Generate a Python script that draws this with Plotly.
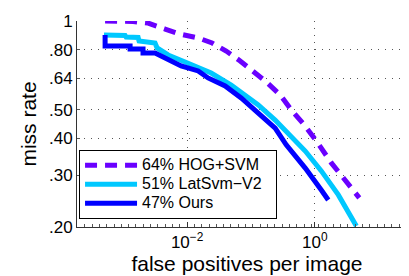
import plotly.graph_objects as go

# Data (false positives per image, miss rate)
hog_fppi = [0.00052, 0.00143, 0.00245, 0.00351, 0.00452, 0.00776, 0.0149, 0.0246, 0.0409,
            0.0677, 0.108, 0.167, 0.287, 0.442, 0.682, 1.09, 1.81, 2.79, 4.96]
hog_miss = [1.0, 0.996, 0.984, 0.962, 0.939, 0.903, 0.876, 0.842, 0.791,
            0.732, 0.677, 0.626, 0.561, 0.495, 0.444, 0.388, 0.330, 0.293, 0.251]

lat_fppi = [0.0005, 0.00107, 0.00111, 0.00171, 0.00177, 0.00315, 0.00339, 0.00504, 0.0093,
            0.0166, 0.0238, 0.049, 0.0702, 0.130, 0.239, 0.427, 0.707, 1.26, 2.33, 4.46]
lat_miss = [0.896, 0.893, 0.882, 0.879, 0.855, 0.842, 0.810, 0.767, 0.726,
            0.687, 0.666, 0.606, 0.570, 0.519, 0.461, 0.407, 0.362, 0.310, 0.257, 0.2015]

ours_fppi = [0.00052, 0.00052, 0.00128, 0.00128, 0.00204, 0.00204, 0.00315, 0.00504, 0.00805,
             0.0149, 0.0213, 0.0394, 0.0702, 0.130, 0.239, 0.356, 0.707, 1.26, 1.62]
ours_miss = [0.896, 0.823, 0.823, 0.804, 0.804, 0.779, 0.779, 0.737, 0.704,
             0.677, 0.641, 0.602, 0.548, 0.487, 0.433, 0.380, 0.317, 0.267, 0.247]

names = ["64% HOG+SVM", "51% LatSvm\u2212V2", "47% Ours"]

y_tickvals = [0.2, 0.3, 0.4, 0.5, 0.64, 0.8, 1.0]
y_ticktext = [".20", ".30", ".40", ".50", ".64", ".80", "1"]
x_tickvals = [0.01, 1.0]
x_ticktext = ["10<sup>\u22122</sup>", "10<sup>0</sup>"]

FONT = "Liberation Sans, Arial, Helvetica, sans-serif"


def legend_label(s):
    return '<span style="font-size:16px">' + s + "\u00a0\u00a0</span>"


fig = go.Figure()
fig.add_trace(go.Scatter(x=hog_fppi, y=hog_miss, mode="lines", name=legend_label(names[0]),
                         line=dict(color="#6a00ff", width=5, dash="12px,8px")))
fig.add_trace(go.Scatter(x=lat_fppi, y=lat_miss, mode="lines", name=legend_label(names[1]),
                         line=dict(color="#00c8ff", width=5)))
fig.add_trace(go.Scatter(x=ours_fppi, y=ours_miss, mode="lines", name=legend_label(names[2]),
                         line=dict(color="#0000ff", width=5)))

fig.update_layout(
    width=409, height=276,
    margin=dict(l=69, r=0, t=13, b=57),
    paper_bgcolor="white", plot_bgcolor="white",
    font=dict(family=FONT, size=17, color="black"),
    showlegend=True,
    legend=dict(x=0.006, y=0.375, xanchor="left", yanchor="top",
                bgcolor="white", bordercolor="black", borderwidth=1,
                font=dict(size=12), itemwidth=52, tracegroupgap=0),
)
fig.update_xaxes(
    type="log", range=[-3.724, 1.599],
    tickvals=x_tickvals, ticktext=x_ticktext,
    showline=True, linecolor="#333", linewidth=1,
    ticks="inside", ticklen=5, tickcolor="#333",
    showgrid=True, gridcolor="#555", gridwidth=1, griddash="1px,6px",
    zeroline=False,
    minor=dict(ticks="inside", ticklen=3, tickcolor="#555", dtick=0.1144, tick0=-2, showgrid=False),
    title=dict(text="false positives per image", font=dict(size=21), standoff=0),
)
fig.update_yaxes(
    type="log", range=[-0.699, 0.0],
    tickvals=y_tickvals, ticktext=y_ticktext,
    showline=True, linecolor="#333", linewidth=1,
    ticks="inside", ticklen=3, tickcolor="#555",
    showgrid=True, gridcolor="#555", gridwidth=1, griddash="1px,6px",
    zeroline=False,
    title=dict(text="miss rate", font=dict(size=21), standoff=6),
)

fig.write_html("out.html")
